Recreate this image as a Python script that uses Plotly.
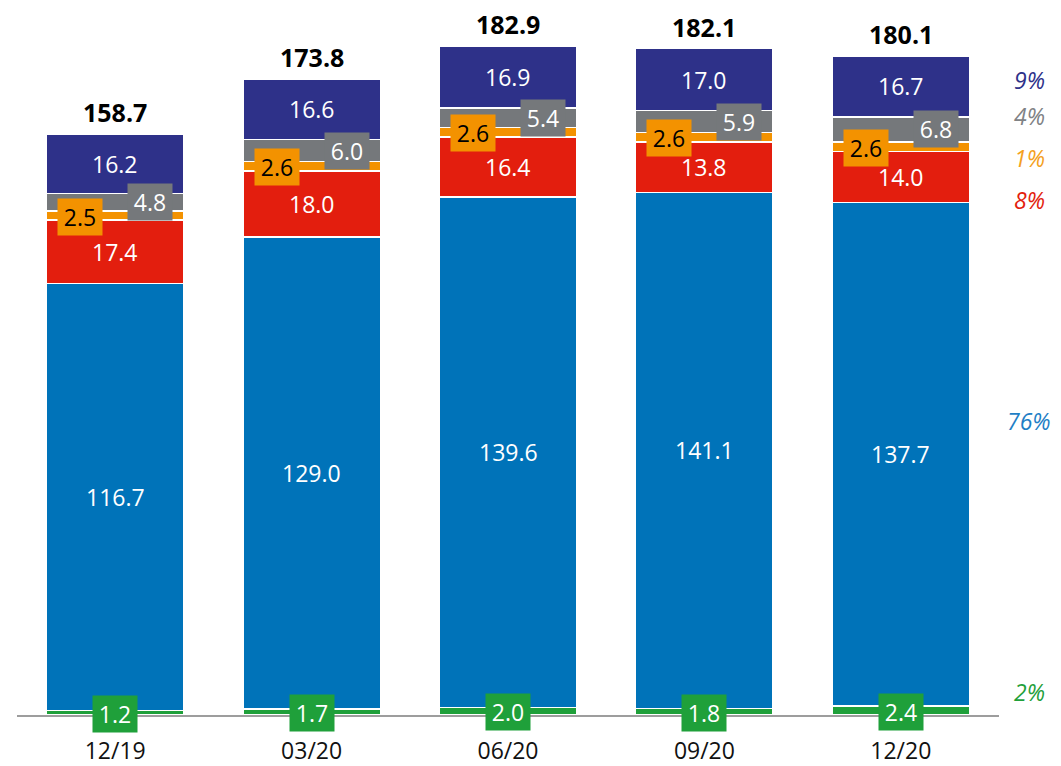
import plotly.graph_objects as go

categories = ["12/19", "03/20", "06/20", "09/20", "12/20"]
green = [1.2, 1.7, 2.0, 1.8, 2.4]
blue = [116.7, 129.0, 139.6, 141.1, 137.7]
red = [17.4, 18.0, 16.4, 13.8, 14.0]
orange = [2.5, 2.6, 2.6, 2.6, 2.6]
gray = [4.8, 6.0, 5.4, 5.9, 6.8]
navy = [16.2, 16.6, 16.9, 17.0, 16.7]
totals = [158.7, 173.8, 182.9, 182.1, 180.1]
share_labels = ["9%", "4%", "1%", "8%", "76%", "2%"]
share_y = [173.5, 163.8, 152.3, 140.8, 80.5, 6.3]

C_GREEN = "#1FA03A"
C_BLUE = "#0073B9"
C_RED = "#E31E0E"
C_ORANGE = "#F39200"
C_GRAY = "#75787B"
C_NAVY = "#2E3189"
share_colors = [C_NAVY, "#808285", "#F4A11D", C_RED, "#1F7FC6", C_GREEN]

FONT = "Open Sans"
PAD = "\u2009"

series = [("green", green, C_GREEN), ("blue", blue, C_BLUE), ("red", red, C_RED),
          ("orange", orange, C_ORANGE), ("gray", gray, C_GRAY), ("navy", navy, C_NAVY)]

fig = go.Figure()
for name, vals, col in series:
    fig.add_trace(go.Bar(x=categories, y=vals, name=name, marker_color=col,
                         marker_line_color="white", marker_line_width=1.5,
                         width=0.7, hoverinfo="skip"))

ann = []
for i, cat in enumerate(categories):
    base = 0.0
    mids = {}
    for name, vals, col in series:
        mids[name] = base + vals[i] / 2
        base += vals[i]
    for name, vals in (("blue", blue), ("red", red), ("navy", navy)):
        ann.append(dict(x=cat, y=mids[name], text=f"{vals[i]:.1f}", showarrow=False,
                        font=dict(family=FONT, size=23, color="white"),
                        xanchor="center", yanchor="middle"))
    ann.append(dict(x=cat, y=mids["green"], text=f"{PAD}{green[i]:.1f}{PAD}", showarrow=False,
                    font=dict(family=FONT, size=23, color="white"), bgcolor=C_GREEN,
                    borderpad=2, xanchor="center", yanchor="middle", yshift=-1))
    ann.append(dict(x=cat, y=mids["orange"], text=f"{PAD}{orange[i]:.1f}{PAD}", showarrow=False,
                    font=dict(family=FONT, size=23, color="black"), bgcolor=C_ORANGE,
                    borderpad=2, xanchor="center", yanchor="middle", xshift=-35, yshift=-1))
    ann.append(dict(x=cat, y=mids["gray"], text=f"{PAD}{gray[i]:.1f}{PAD}", showarrow=False,
                    font=dict(family=FONT, size=23, color="white"), bgcolor=C_GRAY,
                    borderpad=2, xanchor="center", yanchor="middle", xshift=35))
    ann.append(dict(x=cat, y=totals[i], text=f"<b>{totals[i]:.1f}</b>", showarrow=False,
                    font=dict(family=FONT, size=25, color="black"),
                    xanchor="center", yanchor="middle", yshift=22))

for lab, yy, col in zip(share_labels, share_y, share_colors):
    ann.append(dict(xref="paper", x=1.031, y=yy, text=f"<i>{lab}</i>", showarrow=False,
                    font=dict(family=FONT, size=23, color=col),
                    xanchor="center", yanchor="middle"))

fig.update_layout(
    barmode="stack",
    width=1061, height=766,
    margin=dict(l=17, r=62, t=20, b=51, autoexpand=False),
    plot_bgcolor="white", paper_bgcolor="white",
    showlegend=False,
    annotations=ann,
    xaxis=dict(range=[-0.5, 4.5], showgrid=False, showline=True, linecolor="#9D9D9D",
               linewidth=2, ticks="", ticklabelstandoff=14, automargin=False,
               tickfont=dict(family=FONT, size=23, color="#111111")),
    yaxis=dict(range=[0, 190], visible=False, showgrid=False, zeroline=False,
               automargin=False),
)

fig.write_html("out.html")
